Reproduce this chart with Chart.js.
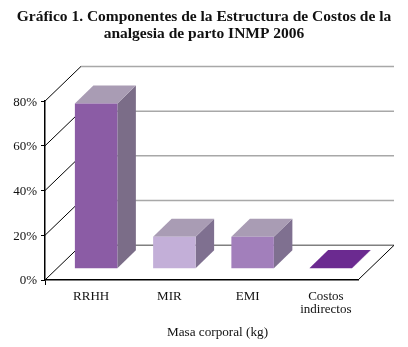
<!DOCTYPE html>
<html>
<head>
<meta charset="utf-8">
<style>
html, body { margin: 0; padding: 0; background: #fff; }
#wrap { width: 408px; height: 347px; }
</style>
<script src="https://cdn.jsdelivr.net/npm/chart.js@4/dist/chart.umd.min.js"></script>
</head>
<body>
<div id="wrap"><canvas id="chart" width="408" height="347"></canvas></div>
<script>
// datos
const categorias = ['RRHH', 'MIR', 'EMI', ['Costos', 'indirectos']];
const valores = [73.9, 14.3, 14.3, 0.3];
const marcas = [0, 20, 40, 60, 80];
const coloresFrente = ['#8b5ca5', '#c3afd8', '#a27fbb', '#6b2a90'];
const coloresTecho = ['#a99cb4', '#a99cb4', '#a99cb4', '#6b2a90'];
const coloresLado = ['#7b6d88', '#7f7090', '#7f7090', '#6b2a90'];
const titulo = ['Gráfico 1. Componentes de la Estructura de Costos de la', 'analgesia de parto INMP 2006'];
const tituloEjeX = 'Masa corporal (kg)';

const FUENTE = '"Liberation Serif", "Times New Roman", serif';

// profundidad de la pared y de las barras
const PARED_X = 36, PARED_Y = 34.7;
const BARRA_X = 12, BARRA_Y = 11.3;
const FONDO_X = 18.5, FONDO_Y = 18;

function linea(ctx, x1, y1, x2, y2, color, ancho) {
    ctx.beginPath();
    ctx.moveTo(x1, y1);
    ctx.lineTo(x2, y2);
    ctx.strokeStyle = color;
    ctx.lineWidth = ancho;
    ctx.stroke();
}

function cara(ctx, puntos, color) {
    ctx.beginPath();
    puntos.forEach((p, i) => i ? ctx.lineTo(p[0], p[1]) : ctx.moveTo(p[0], p[1]));
    ctx.closePath();
    ctx.fillStyle = color;
    ctx.fill();
}

const caja3d = {
    id: 'caja3d',
    // pared de fondo, diagonales y piso
    beforeDatasetsDraw(chart) {
        const { ctx, chartArea: a, scales: { y } } = chart;
        ctx.save();
        marcas.forEach(m => {
            const py = y.getPixelForValue(m);
            linea(ctx, a.left, py, a.left + PARED_X, py - PARED_Y, '#000', 1);
            linea(ctx, a.left + PARED_X, py - PARED_Y, a.right + PARED_X, py - PARED_Y, m === 0 ? '#808080' : '#a8a8a8', 1.5);
        });
        linea(ctx, a.right, a.bottom, a.right + PARED_X, a.bottom - PARED_Y, '#000', 1);
        ctx.restore();
        // las barras van corridas hacia el fondo
        ctx.save();
        ctx.translate(BARRA_X, -BARRA_Y);
        chart.getDatasetMeta(0).data.forEach((bar, i) => {
            const izq = bar.x - bar.width / 2, der = bar.x + bar.width / 2;
            cara(ctx, [[der, bar.y], [der + FONDO_X, bar.y - FONDO_Y], [der + FONDO_X, bar.base - FONDO_Y], [der, bar.base]], coloresLado[i]);
            cara(ctx, [[izq, bar.y], [der, bar.y], [der + FONDO_X, bar.y - FONDO_Y], [izq + FONDO_X, bar.y - FONDO_Y]], coloresTecho[i]);
        });
    },
    afterDatasetsDraw(chart) {
        chart.ctx.restore();
        const { ctx, chartArea: a } = chart;
        ctx.save();
        ctx.font = '13.2px ' + FUENTE;
        ctx.fillStyle = '#111';
        ctx.textAlign = 'center';
        ctx.textBaseline = 'middle';
        ctx.fillText(tituloEjeX, 217.5, a.bottom + 53);
        ctx.restore();
    }
};

new Chart(document.getElementById('chart'), {
    type: 'bar',
    data: {
        labels: categorias,
        datasets: [{
            data: valores,
            backgroundColor: coloresFrente,
            barPercentage: 0.6,
            categoryPercentage: 0.905,
            clip: false
        }]
    },
    options: {
        responsive: false,
        animation: false,
        plugins: {
            legend: { display: false },
            tooltip: { enabled: false },
            title: {
                display: true,
                text: titulo,
                color: '#111',
                font: { family: FUENTE, size: 15.5, weight: 'bold', lineHeight: 1.1 },
                padding: { top: 8, bottom: 59 }
            }
        },
        scales: {
            x: {
                afterFit: s => { s.height = 67; },
                border: { color: '#000', width: 1.5 },
                grid: {
                    drawOnChartArea: false,
                    tickLength: 5,
                    tickColor: c => c.index === 0 ? '#000' : 'transparent'
                },
                ticks: {
                    color: '#111',
                    maxRotation: 0,
                    labelOffset: 7,
                    padding: 6,
                    font: { family: FUENTE, size: 13, lineHeight: 0.93 }
                }
            },
            y: {
                min: 0,
                max: 80,
                afterFit: s => { s.width = 45; },
                afterBuildTicks: s => { s.ticks = marcas.map(v => ({ value: v })); },
                border: { color: '#000', width: 1.5 },
                grid: { drawOnChartArea: false, tickLength: 4, tickColor: '#000' },
                ticks: {
                    color: '#111',
                    padding: 4,
                    labelOffset: 1,
                    callback: v => v + '%',
                    font: { family: FUENTE, size: 13 }
                }
            },
            // eje vacio para dejar el margen derecho sin correr el titulo
            margen: {
                position: 'right',
                afterFit: s => { s.width = 50; },
                border: { display: false },
                grid: { display: false },
                ticks: { display: false }
            }
        }
    },
    plugins: [caja3d]
});
</script>
</body>
</html>
